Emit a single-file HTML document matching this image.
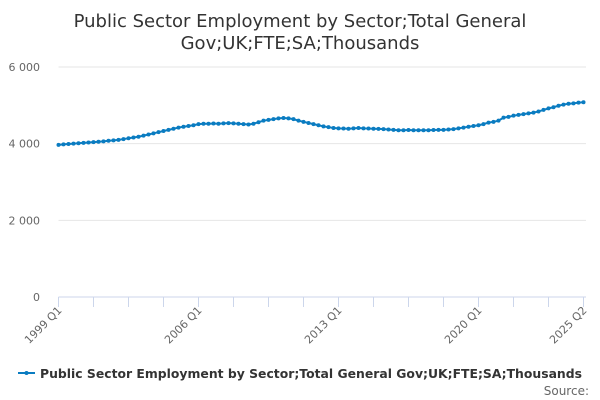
<!DOCTYPE html>
<html><head><meta charset="utf-8"><style>
body{margin:0;background:#fff;}
svg{display:block;font-family:"DejaVu Sans","Liberation Sans",sans-serif;}
</style></head><body>
<svg id="chart" width="600" height="400" viewBox="0 0 600 400">
<text x="300" y="27" text-anchor="middle" font-size="18" fill="#333">Public Sector Employment by Sector;Total General</text>
<text x="300" y="49" text-anchor="middle" font-size="18" fill="#333">Gov;UK;FTE;SA;Thousands</text>
<g id="grid"></g><g id="xaxis"></g><g id="series"></g>
<g>
<line x1="18" y1="373" x2="35" y2="373" stroke="#0a7cc1" stroke-width="2"/>
<circle cx="26.5" cy="373" r="2" fill="#0a7cc1"/>
<text x="40" y="378" font-size="12.5" font-weight="bold" fill="#333" textLength="542" lengthAdjust="spacingAndGlyphs">Public Sector Employment by Sector;Total General Gov;UK;FTE;SA;Thousands</text>
</g>
<text x="589" y="395" text-anchor="end" font-size="12" fill="#666">Source:</text>
</svg>
<script>
const yTicks=[0,2000,4000,6000];
const yTickLabels=["0","2 000","4 000","6 000"];
const xLabels=["1999 Q1","2006 Q1","2013 Q1","2020 Q1","2025 Q2"];
const xLabelIdx=[0,28,56,84,105];
const values=[3970,3980,3990,4000,4010,4020,4030,4040,4050,4060,4075,4085,4100,4120,4140,4160,4180,4210,4240,4270,4300,4330,4360,4390,4420,4440,4460,4480,4510,4520,4520,4525,4520,4530,4535,4530,4520,4510,4500,4520,4560,4600,4620,4640,4660,4670,4660,4640,4600,4570,4540,4510,4480,4450,4430,4410,4400,4395,4390,4400,4410,4400,4395,4390,4385,4380,4370,4360,4350,4350,4355,4350,4350,4350,4350,4355,4360,4360,4370,4380,4400,4420,4440,4460,4480,4510,4550,4570,4600,4680,4700,4730,4750,4770,4790,4810,4840,4880,4920,4950,4990,5020,5040,5050,5070,5080];
const NS="http://www.w3.org/2000/svg";
const x0=58.5,x1=583.5,yBase=297,yTop=67;
const xs=i=>x0+(x1-x0)*i/(values.length-1);
const ys=v=>yBase-(yBase-yTop)*v/6000;
function mk(t,a,p){const e=document.createElementNS(NS,t);for(const k in a)e.setAttribute(k,a[k]);p.appendChild(e);return e;}
const grid=document.getElementById('grid');
yTicks.forEach((t,i)=>{
 if(t>0){const l=mk('line',{x1:x0,x2:586,y1:ys(t),y2:ys(t),stroke:'#e6e6e6'},grid);
 
 }
 const tx=mk('text',{x:40,y:ys(t)+4,'text-anchor':'end','font-size':11,fill:'#666'},grid);
 
 
 tx.textContent=yTickLabels[i];
});
const xa=document.getElementById('xaxis');
const ax=mk('line',{x1:x0,x2:586,y1:yBase,y2:yBase,stroke:'#ccd6eb'},xa);


for(let i=0;i<values.length;i+=7){const tk=mk('line',{x1:xs(i),x2:xs(i),y1:yBase,y2:yBase+10,stroke:'#ccd6eb'},xa);
 
 }
const lt=mk('line',{x1:xs(105),x2:xs(105),y1:yBase,y2:yBase+10,stroke:'#ccd6eb'},xa);


xLabels.forEach((s,k)=>{const x=xs(xLabelIdx[k]);
 const t=mk('text',{x:x+4,y:yBase+14,'text-anchor':'end','font-size':11,fill:'#666',transform:`rotate(-45 ${x+4} ${yBase+14})`},xa);
 
 
 t.textContent=s;});
const sg=document.getElementById('series');
const pl=mk('polyline',{points:values.map((v,i)=>xs(i)+','+ys(v)).join(' '),fill:'none',stroke:'#0a7cc1','stroke-width':2},sg);


values.forEach((v,i)=>{const c=mk('circle',{cx:xs(i),cy:ys(v),r:2,fill:'#0a7cc1'},sg);
 
 });
</script>
</body></html>
